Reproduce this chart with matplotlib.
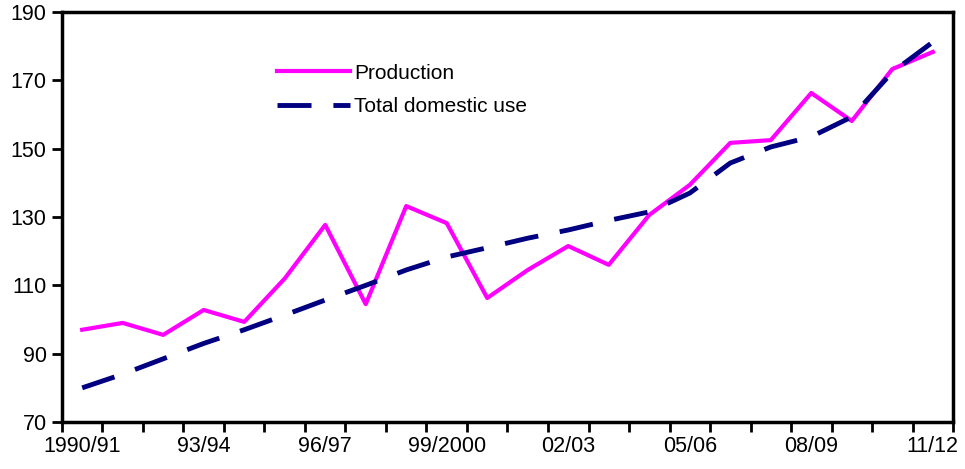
import matplotlib
matplotlib.use("Agg")
import matplotlib.pyplot as plt

plt.rcParams['font.family'] = ['Liberation Sans', 'DejaVu Sans']

seasons = ['1990/91', '91/92', '92/93', '93/94', '94/95', '95/96', '96/97', '97/98',
           '98/99', '99/2000', '2000/01', '01/02', '02/03', '03/04', '04/05', '05/06',
           '06/07', '07/08', '08/09', '09/10', '10/11', '11/12']
production = [97, 99, 95.5, 102.8, 99.3, 112, 127.7, 104.5, 133.2, 128.2, 106.3,
              114.5, 121.5, 116, 130.6, 139.4, 151.7, 152.5, 166.3, 158.1, 173.3, 178.3]
domestic_use = [80, 84, 88.5, 93, 97, 101.3, 105.7, 110, 114.5, 118.3, 121,
                123.8, 126.2, 129, 131.5, 137, 145.8, 150.5, 153.5, 159.3, 172.4, 181.2]
shown_labels = ['1990/91', '93/94', '96/97', '99/2000', '02/03', '05/06', '08/09', '11/12']

x = list(range(len(seasons)))

fig = plt.figure(figsize=(9.65, 4.69), dpi=100)
ax = fig.add_axes([0.0642, 0.1002, 0.9234, 0.8742])

ax.plot(x, production, color='#FF00FF', lw=3, label='Production')
ax.plot(x, domestic_use, color='#000080', lw=3.5, dashes=(7, 4.5),
        label='Total domestic use')

ax.set_xlim(-0.5, len(seasons) - 0.5)
ax.set_ylim(70, 190)
ax.set_yticks(range(70, 191, 20))

# category labels every third season, tick marks between categories
label_pos = [seasons.index(s) for s in shown_labels]
ax.set_xticks(label_pos)
ax.set_xticklabels(shown_labels)
ax.set_xticks([i - 0.5 for i in range(len(seasons) + 1)], minor=True)
ax.tick_params(axis='x', which='major', length=0, pad=10, labelsize=15.5)
ax.tick_params(axis='x', which='minor', length=7, width=2, direction='out')
ax.tick_params(axis='y', length=7, width=2, direction='out', labelsize=15.5, pad=4)

for sp in ax.spines.values():
    sp.set_linewidth(2.5)

ax.legend(loc='upper left', bbox_to_anchor=(0.241, 0.874), frameon=False,
          fontsize=15, handlelength=3.5, handletextpad=0.2, labelspacing=0.7,
          borderpad=0, borderaxespad=0)

fig.savefig('out.png', dpi=100)
